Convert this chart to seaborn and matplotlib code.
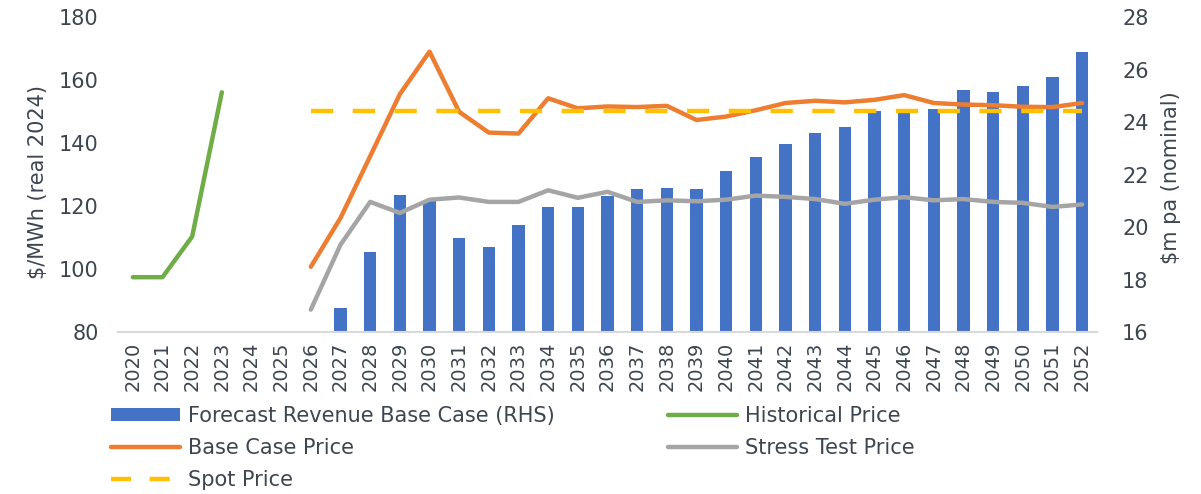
import numpy as np
import pandas as pd
import matplotlib
matplotlib.use("Agg")
import matplotlib.pyplot as plt
import seaborn as sns
from matplotlib.patches import Patch
from matplotlib.lines import Line2D

# ---- data ----
years = list(range(2020, 2053))

hist_years = [2020, 2021, 2022, 2023]
hist_price = [97.4, 97.4, 110.3, 156.1]

fc_years = list(range(2026, 2053))
base_price = [100.7, 116.2, 135.8, 155.5, 169.0, 149.9, 143.3, 143.0, 154.2, 151.0,
              151.6, 151.4, 151.8, 147.3, 148.4, 150.4, 152.7, 153.4, 152.9, 153.7,
              155.2, 152.7, 152.2, 152.0, 151.5, 151.4, 152.7]
stress_price = [87.1, 107.7, 121.3, 117.8, 122.0, 122.7, 121.3, 121.3, 125.0, 122.6,
                124.5, 121.3, 121.8, 121.5, 122.0, 123.3, 122.9, 122.2, 120.7, 122.0,
                122.8, 121.8, 122.2, 121.3, 121.0, 119.7, 120.5]
spot_price = [150.0] * len(fc_years)

rev_years = list(range(2027, 2053))
revenue = [16.90, 19.04, 21.21, 21.00, 19.58, 19.25, 20.09, 20.75, 20.75, 21.17,
           21.43, 21.49, 21.43, 22.12, 22.68, 23.16, 23.57, 23.80, 24.42, 24.45,
           24.49, 25.21, 25.15, 25.36, 25.71, 26.67]

left_ticks = [80, 100, 120, 140, 160, 180]
right_ticks = [16, 18, 20, 22, 24, 26, 28]

# ---- style ----
sns.set_theme(style="white")
plt.rcParams['font.family'] = ['DejaVu Sans']
TXT = '#3d4650'
C_BAR = '#4472C4'
C_ORG = '#ED7D31'
C_GRN = '#70AD47'
C_GRY = '#A5A5A5'
C_YEL = '#FFC000'
DASH = (0, (5.0, 4.4))

fig = plt.figure(figsize=(12.01, 4.94), dpi=100)
ax = fig.add_axes([118/1201, 1 - 332/494, (1097-118)/1201, (332-17)/494])
ax2 = ax.twinx()

df_rev = pd.DataFrame({'year': rev_years, 'rev': revenue})
sns.barplot(data=df_rev, x='year', y='rev', ax=ax2, native_scale=True,
            color=C_BAR, saturation=1, width=0.42, edgecolor='none')

df_hist = pd.DataFrame({'year': hist_years, 'v': hist_price})
df_fc = pd.DataFrame({'year': fc_years, 'base': base_price,
                      'stress': stress_price, 'spot': spot_price})
lw = 3.2
sns.lineplot(data=df_hist, x='year', y='v', ax=ax, color=C_GRN, lw=lw)
sns.lineplot(data=df_fc, x='year', y='stress', ax=ax, color=C_GRY, lw=lw)
sns.lineplot(data=df_fc, x='year', y='base', ax=ax, color=C_ORG, lw=lw)
sns.lineplot(data=df_fc, x='year', y='spot', ax=ax, color=C_YEL, lw=lw,
             dashes=False, linestyle=DASH)

ax.set_zorder(ax2.get_zorder() + 1)
ax.patch.set_visible(False)

ax.set_xlim(2019.5, 2052.5)
ax.set_ylim(80, 180)
ax2.set_ylim(16, 28)
ax.set_yticks(left_ticks)
ax2.set_yticks(right_ticks)
ax.set_xticks(years)
ax.set_xticklabels([str(y) for y in years], rotation=90, fontsize=14, color=TXT)
ax.tick_params(axis='x', length=0, pad=7)
ax.tick_params(axis='y', length=0, pad=14, labelsize=15, labelcolor=TXT)
ax2.tick_params(axis='y', length=0, pad=18, labelsize=15, labelcolor=TXT)
ax2.tick_params(axis='x', length=0)

ax.set_xlabel('')
ax2.set_xlabel('')
ax.set_ylabel('$/MWh (real 2024)', fontsize=15, color=TXT)
ax2.set_ylabel('$m pa (nominal)', fontsize=15, color=TXT)
ax.yaxis.set_label_coords(-0.0715, 0.476)
ax2.yaxis.set_label_coords(1.065, 0.49)

for a in (ax, ax2):
    for s in ['top', 'left', 'right']:
        a.spines[s].set_visible(False)
    a.grid(False)
ax.spines['bottom'].set_color('#D9D9D9')
ax.spines['bottom'].set_linewidth(1.5)
ax2.spines['bottom'].set_visible(False)

handles = [
    Patch(facecolor=C_BAR, edgecolor='none'),
    Line2D([], [], color=C_ORG, lw=lw),
    Line2D([], [], color=C_YEL, lw=lw, linestyle=(0, (4.5, 4.2))),
    Line2D([], [], color=C_GRN, lw=lw),
    Line2D([], [], color=C_GRY, lw=lw),
]
labels = ['Forecast Revenue Base Case (RHS)', 'Base Case Price', 'Spot Price',
          'Historical Price', 'Stress Test Price']
leg = fig.legend(handles, labels, ncol=2, loc='upper left',
                 bbox_to_anchor=(111/1201, 1 - 406/494), frameon=False,
                 fontsize=15, handlelength=3.3, handleheight=0.62,
                 labelspacing=0.58, columnspacing=5.45, handletextpad=0.38,
                 borderaxespad=0, borderpad=0)
for t in leg.get_texts():
    t.set_color(TXT)

fig.savefig('out.png', dpi=100)
